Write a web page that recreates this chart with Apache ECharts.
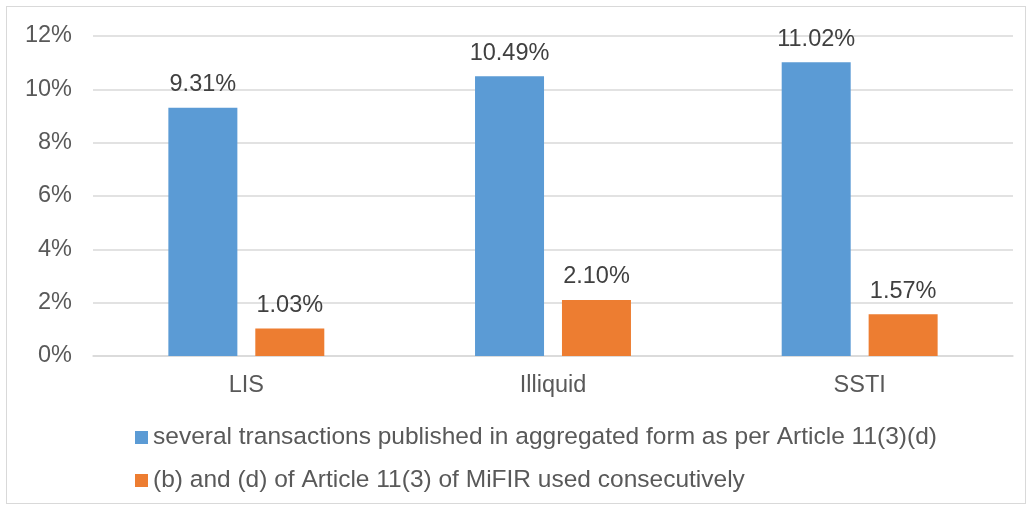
<!DOCTYPE html>
<html><head><meta charset="utf-8">
<script src="https://cdn.jsdelivr.net/npm/echarts@6/dist/echarts.min.js"></script>
<style>html,body{margin:0;padding:0;background:#fff}#c{width:1030px;height:508px}
#frame{position:absolute;left:6px;top:6px;width:1020px;height:498px;border:1px solid #d9d9d9;box-sizing:border-box;pointer-events:none}</style>
</head><body><div id="c"></div><div id="frame"></div>
<script>
const categories = ['LIS', 'Illiquid', 'SSTI'];
const seriesNames = ['several transactions published in aggregated form as per Article 11(3)(d)', '(b) and (d) of Article 11(3) of MiFIR used consecutively'];
const aggregated = [9.31, 10.49, 11.02];
const consecutive = [1.03, 2.10, 1.57];
const colors = ['#5B9BD5', '#ED7D31'];

const chart = echarts.init(document.getElementById('c'));
const font = 'Liberation Sans, Arial, sans-serif';
const fs = 23.5;
const lbl = {show: true, position: 'top', distance: 11, color: '#404040', fontSize: fs, fontFamily: font, formatter: p => p.value.toFixed(2) + '%'};
chart.setOption({
  animation: false,
  grid: {left: 93, right: 17, top: 36, bottom: 152, containLabel: false},
  legend: {orient: 'vertical', left: 130, top: 420, itemWidth: 13, itemHeight: 13, itemGap: 18, itemTextGap: 5, icon: 'rect',
    textStyle: {color: '#595959', fontSize: 24.5, fontFamily: font}},
  xAxis: {type: 'category', data: categories,
    axisLine: {lineStyle: {color: '#d9d9d9', width: 1.5}}, axisTick: {show: false},
    axisLabel: {color: '#595959', fontSize: fs, fontFamily: font, margin: 18}},
  yAxis: {type: 'value', min: 0, max: 12, interval: 2,
    axisLabel: {formatter: v => v + '%', color: '#595959', fontSize: fs, fontFamily: font, margin: 21},
    splitLine: {lineStyle: {color: '#d9d9d9', width: 1.5}}, axisLine: {show: false}, axisTick: {show: false}},
  series: [
    {name: seriesNames[0], type: 'bar', data: aggregated, itemStyle: {color: colors[0]}, barWidth: '22.5%', barGap: '26%', label: lbl},
    {name: seriesNames[1], type: 'bar', data: consecutive, itemStyle: {color: colors[1]}, barWidth: '22.5%', barGap: '26%', label: lbl}
  ]
});
</script></body></html>
